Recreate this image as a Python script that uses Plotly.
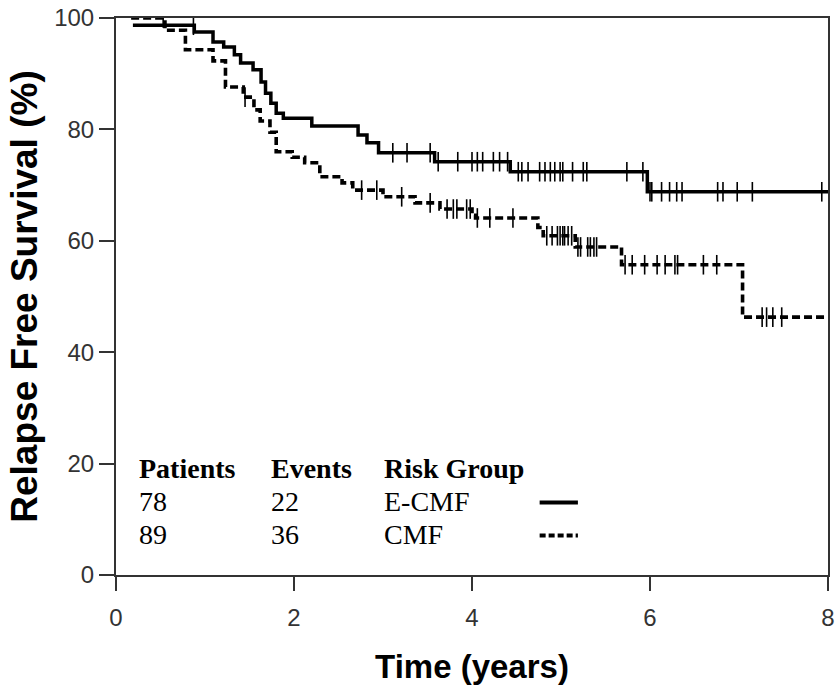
import numpy as np
import plotly.graph_objects as go

# ---------------- data ----------------
# E-CMF (solid): step times (years) and survival (%) after each step
ecmf_t = [0.19, 0.88, 1.09, 1.21, 1.33, 1.40, 1.54, 1.63, 1.68, 1.74, 1.80, 1.88,
          2.20, 2.72, 2.82, 2.95, 3.58, 4.43, 5.97, 8.00]
ecmf_s = [98.7, 97.5, 95.7, 94.8, 93.4, 91.9, 90.7, 88.5, 86.5, 84.7, 82.9, 82.0,
          80.6, 79.0, 77.6, 75.8, 74.2, 72.4, 68.8, 68.8]
ecmf_cens = [0.87, 3.11, 3.27, 3.53, 3.62, 3.84, 4.00, 4.06, 4.12, 4.24, 4.31, 4.40,
             4.52, 4.56, 4.63, 4.76, 4.82, 4.88, 4.93, 4.99, 5.02, 5.13, 5.25, 5.29,
             5.74, 5.92, 6.00, 6.02, 6.13, 6.22, 6.30, 6.36, 6.76, 6.82, 6.98, 7.15, 7.93]

# CMF (dashed)
cmf_t = [0.17, 0.55, 0.78, 1.09, 1.23, 1.43, 1.55, 1.62, 1.73, 1.80, 1.98, 2.12,
         2.29, 2.54, 2.66, 3.00, 3.36, 3.64, 4.00, 4.04, 4.74, 4.80, 5.16, 5.68,
         7.04, 8.00]
cmf_s = [100.0, 97.8, 94.3, 92.3, 87.6, 85.8, 83.5, 81.5, 79.5, 76.0, 75.0, 74.0,
         71.5, 70.4, 69.1, 67.9, 66.8, 65.7, 64.6, 64.1, 62.4, 60.9, 58.9, 55.7,
         46.3, 46.3]
cmf_cens = [0.53, 1.45, 2.76, 2.93, 3.21, 3.53, 3.72, 3.79, 3.83, 3.94, 3.98, 4.06,
            4.20, 4.46, 4.84, 4.90, 4.96, 4.99, 5.02, 5.04, 5.08, 5.12, 5.19, 5.22,
            5.30, 5.33, 5.37, 5.40, 5.72, 5.80, 5.94, 6.08, 6.17, 6.28, 6.31, 6.60,
            6.75, 7.26, 7.31, 7.38, 7.48]

groups = ["E-CMF", "CMF"]
patients = [78, 89]
events = [22, 36]

x_ticks = [0, 2, 4, 6, 8]
y_ticks = [0, 20, 40, 60, 80, 100]


def step_value(times, surv, t):
    idx = np.searchsorted(np.asarray(times), t, side="right") - 1
    idx = np.clip(idx, 0, len(surv) - 1)
    return np.asarray(surv)[idx]


DASH = "8px,4px"
fig = go.Figure()

fig.add_trace(go.Scatter(x=ecmf_t, y=ecmf_s, mode="lines", line_shape="hv",
                         line=dict(color="black", width=3.5), showlegend=False))
fig.add_trace(go.Scatter(x=cmf_t, y=cmf_s, mode="lines", line_shape="hv",
                         line=dict(color="black", width=3.6, dash=DASH),
                         showlegend=False))

for times, surv, cens in [(ecmf_t, ecmf_s, ecmf_cens), (cmf_t, cmf_s, cmf_cens)]:
    cy = step_value(times, surv, np.asarray(cens))
    fig.add_trace(go.Scatter(x=cens, y=cy, mode="markers",
                             marker=dict(symbol="line-ns-open", size=14, color="black",
                                         line=dict(color="black", width=1.6)),
                             showlegend=False))

# table-like legend
serif = "Liberation Serif, Times New Roman, serif"
col_x = [0.235, 1.715, 2.985]
row_y = [19.05, 13.25, 7.25]
headers = ["Patients", "Events", "Risk Group"]
for cx, h in zip(col_x, headers):
    fig.add_annotation(x=cx, y=row_y[0], xref="x", yref="y", text="<b>%s</b>" % h,
                       showarrow=False, xanchor="left", yanchor="middle",
                       font=dict(family=serif, size=28, color="black"))
for i in range(2):
    for cx, val in zip(col_x, [patients[i], events[i], groups[i]]):
        fig.add_annotation(x=cx, y=row_y[i + 1], xref="x", yref="y", text=str(val),
                           showarrow=False, xanchor="left", yanchor="middle",
                           font=dict(family=serif, size=28, color="black"))

leg_x = [4.76, 5.19]
fig.add_trace(go.Scatter(x=leg_x, y=[13.0, 13.0], mode="lines",
                         line=dict(color="black", width=4), showlegend=False))
fig.add_trace(go.Scatter(x=leg_x, y=[7.1, 7.1], mode="lines",
                         line=dict(color="black", width=4, dash="6px,3px"),
                         showlegend=False))

sans = "Liberation Sans, Arial, sans-serif"
fig.update_layout(
    width=838, height=689,
    margin=dict(l=116, r=10, t=18, b=114),
    plot_bgcolor="white", paper_bgcolor="white",
    font=dict(family=sans, color="#333333"),
    xaxis=dict(range=[0, 8], tickvals=x_ticks, ticks="outside", ticklen=14,
               tickwidth=1.8, tickcolor="#333", showline=True, linecolor="#333",
               linewidth=2, mirror=True, showgrid=False, zeroline=False,
               automargin=False,
               tickfont=dict(size=24, color="#333"), ticklabelstandoff=6,
               title=dict(text="<b>Time (years)</b>", standoff=25,
                          font=dict(size=33, color="black"))),
    yaxis=dict(range=[0, 100], tickvals=y_ticks, ticks="outside", ticklen=15,
               tickwidth=1.8, tickcolor="#333", showline=True, linecolor="#333",
               linewidth=2, mirror=True, showgrid=False, zeroline=False,
               automargin=False,
               tickfont=dict(size=24, color="#333"),
               title=dict(text="<b>Relapse Free Survival (%)</b>", standoff=5,
                          font=dict(size=37, color="black"))),
)

fig.write_html("out.html", config={"displayModeBar": False},
               post_script="document.body.style.margin='0';document.body.style.overflow='hidden';")
